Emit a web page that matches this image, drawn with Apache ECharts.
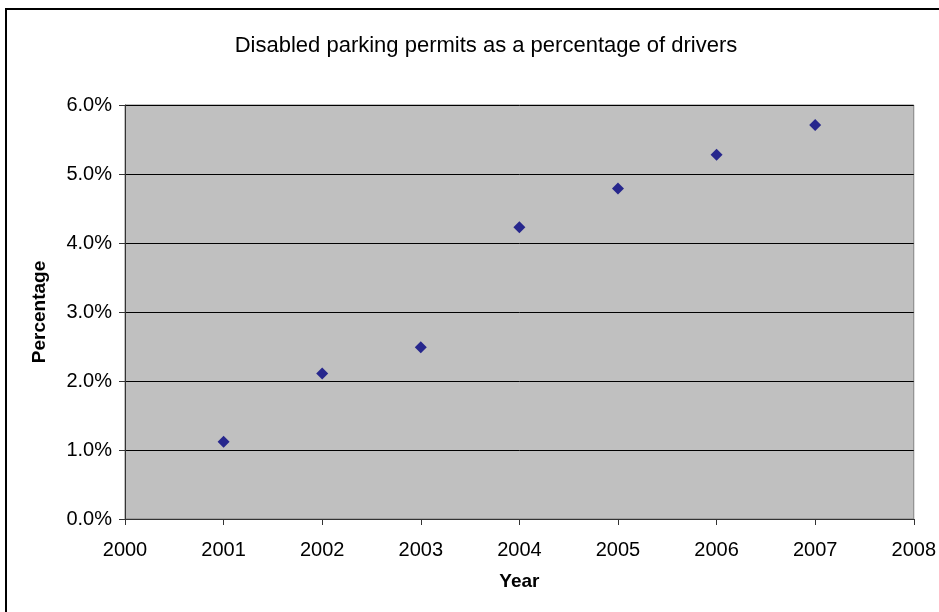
<!DOCTYPE html>
<html>
<head>
<meta charset="utf-8">
<script src="https://cdn.jsdelivr.net/npm/echarts@6/dist/echarts.min.js"></script>
<style>
  html, body { margin: 0; padding: 0; background: #fff; }
  #chart { width: 939px; height: 612px; }
</style>
</head>
<body>
<div id="chart"></div>
<script>
// values (percent of drivers)
const years = [2001, 2002, 2003, 2004, 2005, 2006, 2007]
const permitPct = [1.12, 2.11, 2.49, 4.23, 4.79, 5.28, 5.71]

const font = 'Arial, "Liberation Sans", sans-serif'

const chart = echarts.init(document.getElementById('chart'))

const option = {
  animation: false,
  backgroundColor: '#fff',
  title: {
    text: 'Disabled parking permits as a percentage of drivers',
    left: 481,
    top: 30,
    textAlign: 'center',
    textStyle: {
      fontFamily: font,
      fontSize: 22,
      fontWeight: 'normal',
      color: '#000'
    }
  },
  graphic: [
    {
      type: 'rect',
      shape: { x: 6, y: 9, width: 960, height: 640 },
      style: { fill: 'none', stroke: '#000', lineWidth: 2 },
      z: 100
    }
  ],
  grid: {
    left: 125,
    right: 25,
    top: 105,
    bottom: 93,
    show: true,
    backgroundColor: '#c0c0c0',
    borderColor: '#808080',
    borderWidth: 1
  },
  xAxis: {
    type: 'value',
    min: 2000,
    max: 2008,
    interval: 1,
    name: 'Year',
    nameLocation: 'middle',
    nameGap: 53,
    nameTextStyle: {
      fontFamily: font,
      fontSize: 19,
      fontWeight: 'bold',
      color: '#000'
    },
    axisLine: { show: true, onZero: false, lineStyle: { color: '#333', width: 1 } },
    axisTick: { show: true, length: 6, lineStyle: { color: '#333' } },
    axisLabel: {
      fontFamily: font,
      fontSize: 20,
      color: '#000',
      margin: 21,
      formatter: v => String(v)
    },
    splitLine: { show: false }
  },
  yAxis: {
    type: 'value',
    min: 0,
    max: 6,
    interval: 1,
    name: 'Percentage',
    nameLocation: 'middle',
    nameGap: 76,
    nameTextStyle: {
      fontFamily: font,
      fontSize: 19,
      fontWeight: 'bold',
      color: '#000'
    },
    axisLine: { show: true, lineStyle: { color: '#333', width: 1 } },
    axisTick: { show: true, length: 6, lineStyle: { color: '#333' } },
    axisLabel: {
      fontFamily: font,
      fontSize: 20,
      color: '#000',
      margin: 13,
      formatter: v => v.toFixed(1) + '%'
    },
    splitLine: { show: true, lineStyle: { color: '#000', width: 1 } }
  },
  series: [
    {
      type: 'scatter',
      data: years.map((y, i) => [y, permitPct[i]]),
      symbol: 'diamond',
      symbolSize: 12,
      itemStyle: { color: '#000080' }
    }
  ]
}

chart.setOption(option)
</script>
</body>
</html>
